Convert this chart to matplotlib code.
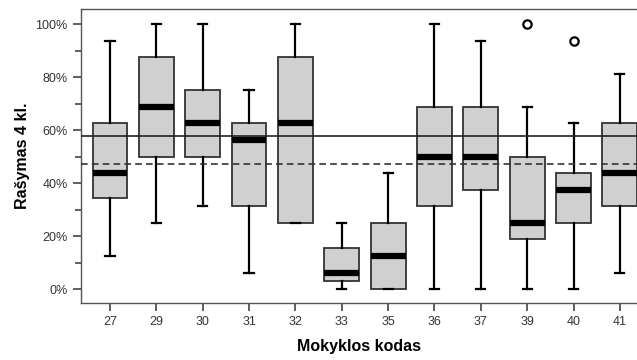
import matplotlib
matplotlib.use("Agg")
import matplotlib.pyplot as plt
from matplotlib.ticker import MultipleLocator, FuncFormatter

plt.rcParams['font.family'] = ['Liberation Sans', 'DejaVu Sans']

categories = ["27", "29", "30", "31", "32", "33", "35", "36", "37", "39", "40", "41"]
whislo = [12.5, 25, 31.25, 6.25, 25, 0, 0, 0, 0, 0, 0, 6.25]
q1 = [34.4, 50, 50, 31.25, 25, 3.125, 0, 31.25, 37.5, 18.75, 25, 31.25]
med = [43.75, 68.75, 62.5, 56.25, 62.5, 6.25, 12.5, 50, 50, 25, 37.5, 43.75]
q3 = [62.5, 87.5, 75, 62.5, 87.5, 15.625, 25, 68.75, 68.75, 50, 43.75, 62.5]
whishi = [93.75, 100, 100, 75, 100, 25, 43.75, 100, 93.75, 68.75, 62.5, 81.25]
fliers = [[], [], [], [], [], [], [], [], [], [100], [93.75], []]
mean_line = 57.8
dashed_line = 47.2

fig = plt.figure(figsize=(6.37, 3.6), dpi=100)
ax = fig.add_axes([0.127, 0.158, 0.873, 0.817])

stats = []
for i in range(len(categories)):
    stats.append(dict(label=categories[i], whislo=whislo[i], q1=q1[i], med=med[i],
                      q3=q3[i], whishi=whishi[i], fliers=fliers[i]))

ax.axhline(mean_line, color='#222222', lw=1.2, zorder=3)
ax.axhline(dashed_line, color='#333333', lw=1.2, ls=(0, (4, 2.5)), zorder=3)

ax.bxp(stats, positions=range(len(categories)), widths=0.75, patch_artist=True,
       boxprops=dict(facecolor='#d0d0d0', edgecolor='#333333', lw=1.3),
       medianprops=dict(color='black', lw=4.5, solid_capstyle='butt'),
       whiskerprops=dict(color='black', lw=1.6),
       capprops=dict(color='black', lw=1.6),
       capwidths=0.2,
       flierprops=dict(marker='o', markerfacecolor='white', markeredgecolor='black',
                       markersize=6, markeredgewidth=1.6),
       zorder=2)

ax.set_xlim(-0.63, 11.37)
ax.set_ylim(-5.3, 105.7)
ax.yaxis.set_major_locator(MultipleLocator(20))
ax.yaxis.set_minor_locator(MultipleLocator(10))
ax.yaxis.set_major_formatter(FuncFormatter(lambda v, p: f"{int(round(v))}%"))
ax.set_xticks(range(len(categories)))
ax.set_xticklabels(categories)

for s in ['left', 'top', 'bottom']:
    ax.spines[s].set_color('#555555')
    ax.spines[s].set_linewidth(1.0)
ax.spines['right'].set_visible(False)

ax.tick_params(axis='both', which='major', length=6, width=1.2, color='#444444',
               labelsize=9, labelcolor='#333333', direction='out')
ax.tick_params(axis='y', which='minor', length=4, width=1.2, color='#444444')

ax.set_xlabel("Mokyklos kodas", fontsize=11.5, fontweight='bold', labelpad=8)
ax.set_ylabel("Rašymas 4 kl.", fontsize=11.5, fontweight='bold', labelpad=4)

fig.savefig("out.png", dpi=100)
